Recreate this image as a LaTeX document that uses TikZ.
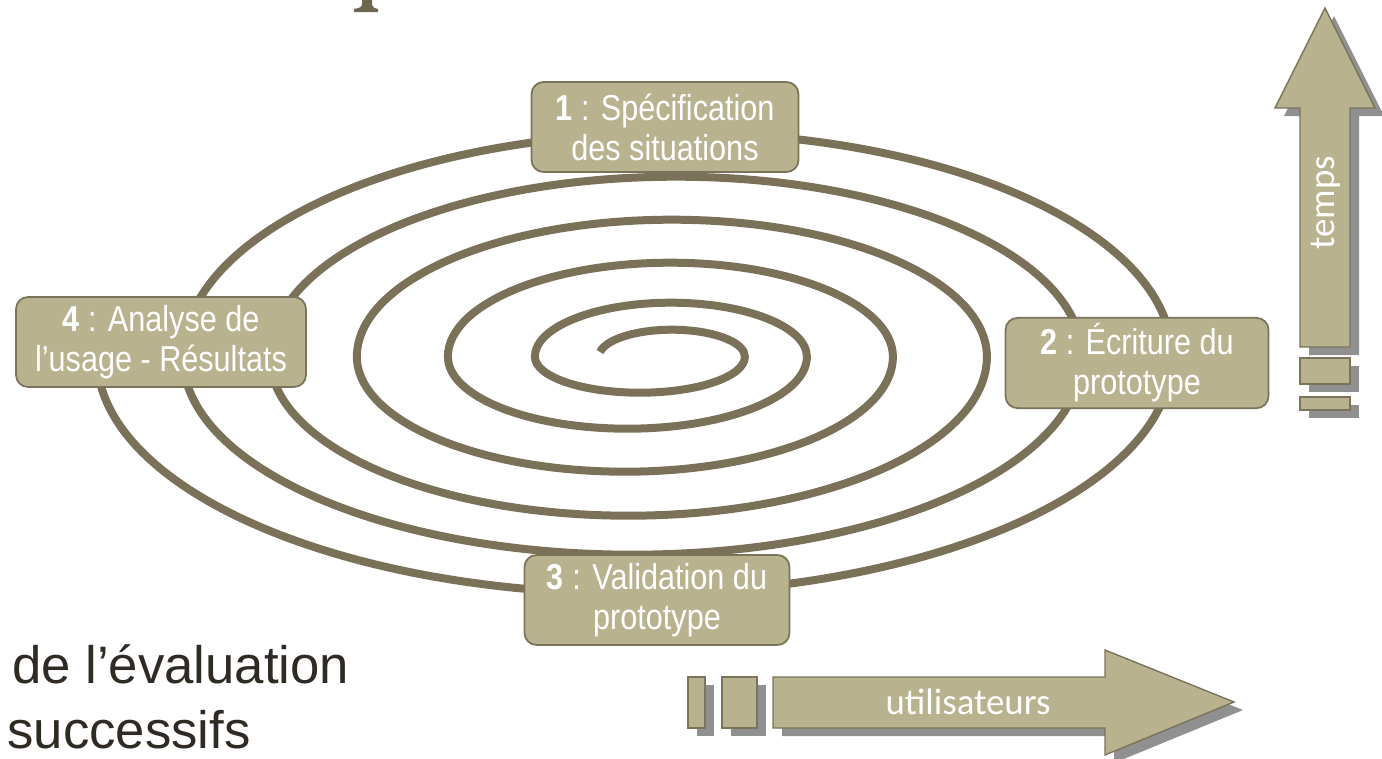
\documentclass[tikz,border=0pt]{standalone}
\usepackage{fontspec}
\usepackage{tikz}
\usetikzlibrary{positioning}
\setmainfont{Liberation Sans}
\newfontfamily\stagefont[FakeStretch=0.85]{Liberation Sans}
\newfontfamily\arrowfont{Carlito}
\definecolor{khaki}{HTML}{B8B28F}
\definecolor{khakiedge}{HTML}{7B735A}
\definecolor{spiralline}{HTML}{7A7158}
\definecolor{shadowgrey}{HTML}{909090}
\definecolor{inktext}{HTML}{2F2B24}

\begin{document}
\begin{tikzpicture}[x=0.02cm,y=-0.02cm,
    spiral/.style={spiralline,line width=0.16cm},
    stage/.style={draw=khakiedge,fill=khaki,line width=1pt,rounded corners=0.24cm,minimum height=1.8cm,
      align=center,text=white,font=\stagefont\fontsize{20.5}{22.7}\selectfont},
    bigarrow/.style={draw=khakiedge,fill=khaki,line width=0.8pt},
    arrowshadow/.style={fill=shadowgrey},
    arrowtext/.style={text=white,font=\arrowfont\fontsize{21}{25}\selectfont}]
  \useasboundingbox (0,0) rectangle (1382,758);

  \fill[spiralline!90!black] (362,0) -- (372,0) -- (372,5) .. controls (373,8) and (375,8.5) .. (378,9)
    -- (378,12) -- (354,12) -- (354,9) .. controls (357,8.5) and (361,8) .. (362,5) -- cycle;

  \draw[spiral] (600,352) arc[start angle=190,end angle=360,x radius=73,y radius=27]
    \foreach \ba/\bb/\ta/\tb in {105/36/136/54,179.5/72/222.5/94,268/115/315/137,358.5/159/406/180,449.5/198/494.5/224}{
      arc[start angle=0,end angle=180,x radius=\ba,y radius=\bb]
      arc[start angle=180,end angle=360,x radius=\ta,y radius=\tb]}
    arc[start angle=0,end angle=180,x radius=537.5,y radius=237];

  \node[stage,minimum width=5.34cm] (spec) at (665,127) {\textbf{1} : Spécification\\des situations};
  \node[stage,minimum width=5.26cm] (ecriture) at (1137,363) {\textbf{2} : Écriture du\\prototype};
  \node[stage,minimum width=5.3cm] (validation) at (657,600) {\textbf{3} : Validation du\\prototype};
  \node[stage,minimum width=5.8cm] (usage) at (161,342) {\textbf{4} : Analyse de\\l’usage - Résultats};

  \foreach \dx/\dy/\sty in {9/8/arrowshadow,0/0/bigarrow}{
    \begin{scope}[shift={(\dx,\dy)}]
      \path[\sty] (1300,347) -- (1300,108) -- (1275,108) -- (1325,8) -- (1375,108) -- (1350,108) -- (1350,347) -- cycle;
      \path[\sty] (1300,358) rectangle (1350,384);
      \path[\sty] (1300,397) rectangle (1350,410);
      \path[\sty] (773,677) -- (1105,677) -- (1105,650) -- (1234,702) -- (1105,755) -- (1105,728) -- (773,728) -- cycle;
      \path[\sty] (688,677) rectangle (705,728);
      \path[\sty] (722,677) rectangle (757,728);
    \end{scope}
  }
  \node[arrowtext,rotate=90] (tempslabel) at (1326,203) {temps};
  \node[arrowtext] (userslabel) at (968,702) {utilisateurs};

  \node[anchor=base west,inner sep=0pt,text=inktext,font=\fontsize{30}{36}\selectfont] (evalline) at (12,683) {de l’évaluation};
  \node[anchor=base west,inner sep=0pt,text=inktext,font=\fontsize{30}{36}\selectfont] (succline) at (7,748) {successifs};
\end{tikzpicture}
\end{document}
